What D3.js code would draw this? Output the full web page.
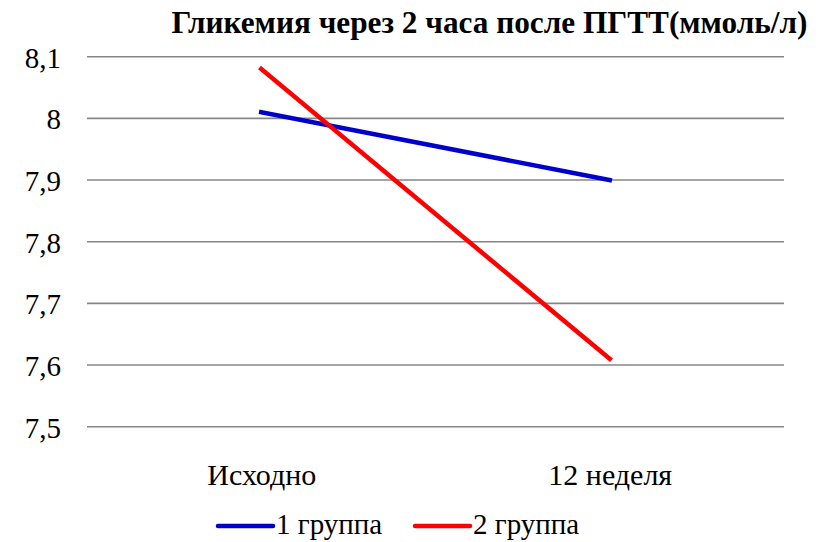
<!DOCTYPE html>
<html><head><meta charset="utf-8">
<script src="https://cdn.jsdelivr.net/npm/d3@7"></script>
<style>body{margin:0;background:#fff}svg{display:block}</style>
</head><body><svg id="c" width="827" height="542"></svg>
<script>
(function(){
const title = "Гликемия через 2 часа после ПГТТ(ммоль/л)";
const categories = ["Исходно", "12 неделя"];
const seriesNames = ["1 группа", "2 группа"];
const group1 = [8.01, 7.90];
const group2 = [8.08, 7.61];
const yTicks = [7.5, 7.6, 7.7, 7.8, 7.9, 8.0, 8.1];
const colors = ["#0000CC", "#FF0000"];
const FONT = "'Liberation Serif', serif";

const svg = d3.select("#c");
const mLeft = 87, mRight = 784, mTop = 56.7, mBottom = 426.7;
const x = d3.scalePoint().domain(categories).range([mLeft, mRight]).padding(0.5);
const y = d3.scaleLinear().domain([7.5, 8.1]).range([mBottom, mTop]);
const fmt = v => d3.format(".1~f")(v).replace(".", ",");

// gridlines
svg.append("g").selectAll("line").data(yTicks).join("line")
  .attr("x1", mLeft).attr("x2", mRight)
  .attr("y1", d => y(d)).attr("y2", d => y(d))
  .attr("stroke", "#868686").attr("stroke-width", 1.6);

// y axis labels
const yAxis = d3.axisLeft(y).tickValues(yTicks).tickFormat(fmt).tickSize(0).tickPadding(0);
const ya = svg.append("g").attr("transform", "translate(61,0)").call(yAxis);
ya.select(".domain").remove();
ya.attr("font-family", null).attr("font-size", null);
ya.selectAll("text").style("font-family", FONT).style("font-size", "29px").attr("dy", "0.36em").attr("fill", "#000");

// x axis labels
const xAxis = d3.axisBottom(x).tickSize(0).tickPadding(0);
const xa = svg.append("g").attr("transform", "translate(0,485)").call(xAxis);
xa.select(".domain").remove();
xa.attr("font-family", null).attr("font-size", null);
xa.selectAll("text").style("font-family", FONT).style("font-size", "30px").attr("dy", 0).attr("fill", "#000");

// lines
const series = [group1, group2];
const line = d3.line().x((d, i) => x(categories[i])).y(d => y(d));
svg.append("g").selectAll("path").data(series).join("path")
  .attr("d", d => line(d)).attr("fill", "none")
  .attr("stroke", (d, i) => colors[i]).attr("stroke-width", 4.5)
  .attr("stroke-linecap", "square");

// title
const t = svg.append("text").attr("x", 489.5).attr("y", 33).attr("text-anchor", "middle")
  .style("font-family", FONT).style("font-weight", "bold").style("font-size", "26px").text(title);
const tw = t.node().getComputedTextLength();
t.style("font-size", (26 * 636 / tw) + "px");

// legend
const legX = [218, 415];
const lg = svg.append("g").selectAll("g").data(seriesNames).join("g")
  .attr("transform", (d, i) => `translate(${legX[i]},526)`);
lg.append("line").attr("x1", 0).attr("x2", 55).attr("y1", 0).attr("y2", 0)
  .attr("stroke", (d, i) => colors[i]).attr("stroke-width", 4.5).attr("stroke-linecap", "round");
lg.append("text").attr("x", 58).attr("y", 8).style("font-family", FONT).style("font-size", "29px").text(d => d);
})();
</script></body></html>
